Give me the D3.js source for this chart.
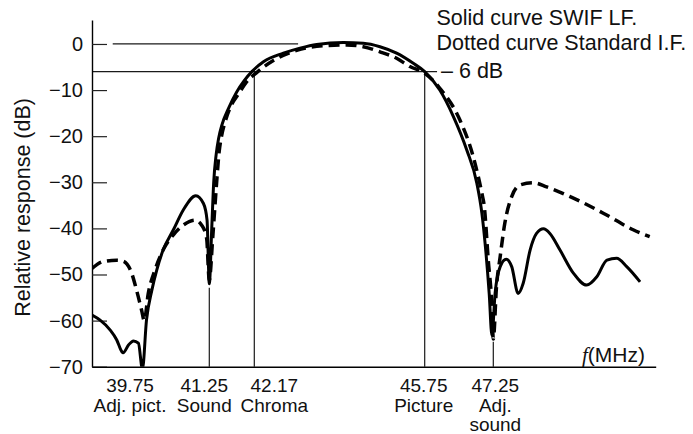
<!DOCTYPE html>
<html><head><meta charset="utf-8">
<script src="https://cdn.jsdelivr.net/npm/d3@7"></script>
<style>
body{margin:0;background:#fff}
svg{display:block}
text{font-family:"Liberation Sans",Arial,Helvetica,sans-serif;fill:#111}
</style>
</head><body>
<svg id="c" width="693" height="434"></svg>
<script>
// ---------- data ----------
// SWIF LF response (solid): [frequency MHz, relative response dB]
const solidCurve = [
  [38.64,-58.8],[38.82,-59.9],[39.04,-62.0],[39.19,-64.2],[39.30,-66.7],[39.33,-67.0],
  [39.45,-65.3],[39.56,-64.4],[39.67,-64.9],[39.76,-70.5],[39.85,-59.9],[39.97,-53.4],
  [40.08,-49.0],[40.22,-44.7],[40.45,-40.3],[40.67,-36.0],[40.95,-32.9],[41.12,-34.6],
  [41.20,-38.2],[41.25,-52.0],[41.30,-40.0],[41.34,-30.0],[41.39,-24.0],[41.44,-20.5],
  [41.51,-17.5],[41.65,-13.8],[41.81,-10.4],[41.96,-8.0],[42.12,-6.0],[42.37,-3.8],
  [42.78,-2.0],[43.13,-0.9],[43.48,-0.1],[44.04,0.3],[44.46,0.15],[44.81,-0.6],
  [45.16,-2.0],[45.51,-4.2],[45.75,-6.0],[46.08,-10.0],[46.38,-15.8],[46.67,-23.0],
  [46.89,-30.2],[47.00,-36.7],[47.07,-43.2],[47.16,-54.1],[47.22,-63.2],[47.29,-54.0],
  [47.40,-48.3],[47.53,-46.7],[47.65,-48.3],[47.79,-54.1],[47.90,-51.9],[48.05,-44.7],
  [48.19,-41.1],[48.34,-40.1],[48.48,-41.1],[48.70,-44.7],[48.99,-49.7],[49.28,-52.3],
  [49.50,-50.5],[49.72,-46.9],[49.93,-46.5],[50.15,-48.3],[50.44,-51.6]
];
// Standard I.F. response (dotted)
const dottedCurve = [
  [38.64,-48.7],[38.89,-47.2],[39.19,-46.9],[39.33,-47.1],[39.52,-49.7],[39.63,-53.4],
  [39.74,-57.7],[39.80,-60.0],[39.89,-54.1],[40.04,-49.0],[40.22,-44.7],[40.45,-41.4],
  [40.67,-39.3],[40.93,-38.2],[41.08,-39.3],[41.19,-42.1],[41.25,-51.2],[41.32,-42.0],
  [41.36,-36.0],[41.40,-30.0],[41.45,-23.5],[41.50,-20.0],[41.57,-17.0],[41.69,-13.5],
  [41.85,-10.8],[42.00,-8.4],[42.22,-6.2],[42.57,-3.6],[43.06,-1.4],[43.62,-0.4],
  [44.11,-0.2],[44.46,-0.6],[44.81,-1.7],[45.16,-3.1],[45.44,-4.9],[45.76,-6.4],
  [46.08,-9.6],[46.52,-16.5],[46.81,-24.4],[47.00,-32.4],[47.05,-35.0],[47.14,-46.9],
  [47.22,-57.0],[47.25,-64.0],[47.32,-52.6],[47.40,-46.1],[47.50,-38.9],[47.65,-33.1],
  [47.83,-30.6],[48.12,-30.1],[48.41,-31.0],[48.92,-33.1],[49.64,-36.7],[50.29,-40.3],
  [50.65,-41.8]
];
const yTicks = [0,-10,-20,-30,-40,-50,-60,-70];
const markerFreqs = [39.75, 41.25, 42.17, 45.75, 47.25];
const markerNumbers = ["39.75", "41.25", "42.17", "45.75", "47.25"];
const markerNames = [["Adj. pict."], ["Sound"], ["Chroma"], ["Picture"], ["Adj.", "sound"]];
const guideFreqs = [41.25, 42.17, 45.75, 47.25];
const guideTopDb = [-52.9, -6, -6, -64.6];
const refLevels = [0, -6];
const refFrom = [39.1, 38.64];
const refTo = [43.09, 46.02];
const legendLines = ["Solid curve SWIF LF.", "Dotted curve Standard I.F."];
const levelLabel = "\u2013 6 dB";
const yTitle = "Relative response (dB)";

// ---------- scales ----------
const svg = d3.select("#c");
const x = d3.scaleLinear()
  .domain([38.64, 39.75, 41.25, 42.17, 45.75, 47.25, 50.78])
  .range([92, 142, 209.3, 254.3, 424.7, 493.3, 655.7]);
const y = d3.scaleLinear().domain([-70, 5.2]).range([366.7, 20]);
const x0 = x.range()[0], x1 = x.range()[x.range().length-1];
const yb = y(-70);

svg.append("defs").append("clipPath").attr("id","clip")
  .append("rect").attr("x", x0).attr("y", 0).attr("width", x1 - x0 + 10).attr("height", yb - 0);

// reference lines
const thin = "#1a1a1a";
svg.append("g").selectAll("line").data(refLevels).join("line")
  .attr("x1", (d,i)=>x(refFrom[i])).attr("x2",(d,i)=>x(refTo[i]))
  .attr("y1", d=>y(d)).attr("y2", d=>y(d))
  .attr("stroke", thin).attr("stroke-width", 1.2);
svg.append("g").selectAll("line").data(guideFreqs).join("line")
  .attr("x1", d=>x(d)).attr("x2", d=>x(d))
  .attr("y1", (d,i)=>y(guideTopDb[i])).attr("y2", yb)
  .attr("stroke", thin).attr("stroke-width", 1.2);

// axes
const yAxis = d3.axisLeft(y).tickValues(yTicks).tickSizeInner(-15).tickSizeOuter(0).tickPadding(9)
  .tickFormat(d => d === 0 ? "0" : "\u2212" + Math.abs(d));
const gy = svg.append("g").attr("transform", `translate(${x0},0)`).call(yAxis);
gy.select(".domain").attr("stroke", "#000").attr("stroke-width", 1.4);
gy.selectAll(".tick line").attr("stroke", "#222").attr("stroke-width", 1.2);
gy.selectAll(".tick text").attr("font-size", 20).attr("font-family", null).attr("fill", "#111");

const xAxis = d3.axisBottom(x).tickValues([]).tickSizeOuter(0);
const gx = svg.append("g").attr("transform", `translate(0,${yb})`).call(xAxis);
gx.select(".domain").attr("stroke", "#000").attr("stroke-width", 1.4);

// curves
const line = d3.line().x(d=>x(d[0])).y(d=>y(d[1])).curve(d3.curveMonotoneX);
const plot = svg.append("g").attr("clip-path", "url(#clip)");
plot.append("path").datum(dottedCurve).attr("d", line)
  .attr("fill","none").attr("stroke","#000").attr("stroke-width",3.5)
  .attr("stroke-dasharray","11,6");
plot.append("path").datum(solidCurve).attr("d", line)
  .attr("fill","none").attr("stroke","#000").attr("stroke-width",3)
  .attr("stroke-linejoin","round");

// x marker labels
const labelShift = [-12, -5, 20, -1, 2];
const mk = svg.append("g").attr("font-size", 19).attr("text-anchor", "middle");
markerFreqs.forEach((f,i) => {
  mk.append("text").attr("x", x(f) + labelShift[i]).attr("y", yb + 25).text(markerNumbers[i]);
  markerNames[i].forEach((s,j) => {
    mk.append("text").attr("x", x(f) + labelShift[i]).attr("y", yb + 45 + 19.5*j).text(s);
  });
});

// f(MHz)
const fl = svg.append("text").attr("x", 645).attr("y", yb - 5).attr("text-anchor","end").attr("font-size", 21);
fl.append("tspan").attr("font-style","italic").attr("font-family","'Liberation Serif','Times New Roman',serif").text("f");
fl.append("tspan").text("(MHz)");

// legend text
svg.append("g").attr("font-size", 21.5).selectAll("text").data(legendLines).join("text")
  .attr("x", 436.5).attr("y", (d,i)=>25 + 25*i).text(d=>d);
svg.append("text").attr("x", x(refTo[1]) + 4).attr("y", y(-6) + 6).attr("font-size", 21.5).text(levelLabel);

// y title
svg.append("text").attr("transform", `translate(30,${(y(-70)+y(5.2))/2 + 14}) rotate(-90)`)
  .attr("text-anchor","middle").attr("font-size", 21.5).text(yTitle);
</script>
</body></html>
